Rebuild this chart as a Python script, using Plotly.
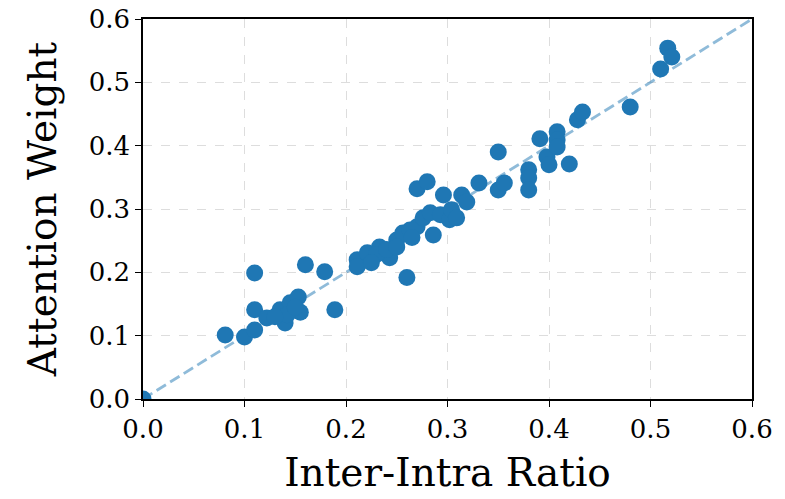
import plotly.graph_objects as go

inter_intra_ratio = [
    0.000, 0.081, 0.100, 0.110, 0.110, 0.110, 0.122, 0.135, 0.140, 0.145,
    0.153, 0.155, 0.142, 0.160, 0.179, 0.189, 0.211, 0.211, 0.221, 0.233,
    0.243, 0.250, 0.256, 0.263, 0.270, 0.276, 0.283, 0.286, 0.293, 0.296,
    0.302, 0.304, 0.309, 0.314, 0.319, 0.260, 0.270, 0.280, 0.331, 0.350,
    0.350, 0.356, 0.380, 0.380, 0.380, 0.391, 0.398, 0.400, 0.408, 0.408,
    0.408, 0.420, 0.428, 0.433, 0.480, 0.510, 0.517, 0.521, 0.230, 0.240,
    0.250, 0.225, 0.265, 0.150, 0.130,
]
attention_weight = [
    0.000, 0.101, 0.098, 0.109, 0.141, 0.199, 0.128, 0.141, 0.120, 0.152,
    0.161, 0.137, 0.133, 0.212, 0.201, 0.141, 0.220, 0.209, 0.231, 0.240,
    0.223, 0.251, 0.262, 0.267, 0.272, 0.286, 0.294, 0.259, 0.291, 0.322,
    0.283, 0.299, 0.286, 0.322, 0.311, 0.192, 0.332, 0.343, 0.341, 0.390,
    0.330, 0.341, 0.362, 0.349, 0.330, 0.411, 0.382, 0.370, 0.422, 0.409,
    0.398, 0.371, 0.441, 0.453, 0.461, 0.521, 0.554, 0.540, 0.228, 0.236,
    0.240, 0.215, 0.255, 0.145, 0.130,
]
diag = [0.0, 0.6]
tick_vals = [0.0, 0.1, 0.2, 0.3, 0.4, 0.5, 0.6]
tick_text = ["0.0", "0.1", "0.2", "0.3", "0.4", "0.5", "0.6"]

FONT = "DejaVu Serif"
fig = go.Figure()
fig.add_trace(go.Scatter(
    x=diag, y=diag, mode="lines",
    line=dict(color="rgba(31,119,180,0.5)", width=2.8, dash="11px,5px"),
    hoverinfo="skip", showlegend=False,
))
fig.add_trace(go.Scatter(
    x=inter_intra_ratio, y=attention_weight, mode="markers",
    marker=dict(color="#1f77b4", size=17, line=dict(width=0)),
    showlegend=False,
))

axis_common = dict(
    range=[0, 0.6], tickvals=tick_vals, ticktext=tick_text,
    showline=True, linecolor="black", linewidth=1.5, mirror=True,
    ticks="outside", ticklen=6, tickwidth=1.2, tickcolor="black",
    showgrid=True, gridcolor="#dddddd", griddash="dash", gridwidth=1,
    zeroline=False, ticklabeloverflow="allow",
    tickfont=dict(family=FONT, size=26, color="black"),
)
fig.update_xaxes(**axis_common, title=dict(text="Inter-Intra Ratio",
                 font=dict(family=FONT, size=39, color="black"), standoff=16))
fig.update_yaxes(**axis_common, title=dict(text="Attention Weight",
                 font=dict(family=FONT, size=39, color="black"), standoff=20))
fig.update_layout(
    width=785, height=499,
    margin=dict(l=143, r=33, t=19, b=100, autoexpand=False),
    plot_bgcolor="white", paper_bgcolor="white",
)
fig.write_html("out.html", config={"displayModeBar": False},
               post_script="document.body.style.margin='0';document.body.style.overflow='hidden';")
